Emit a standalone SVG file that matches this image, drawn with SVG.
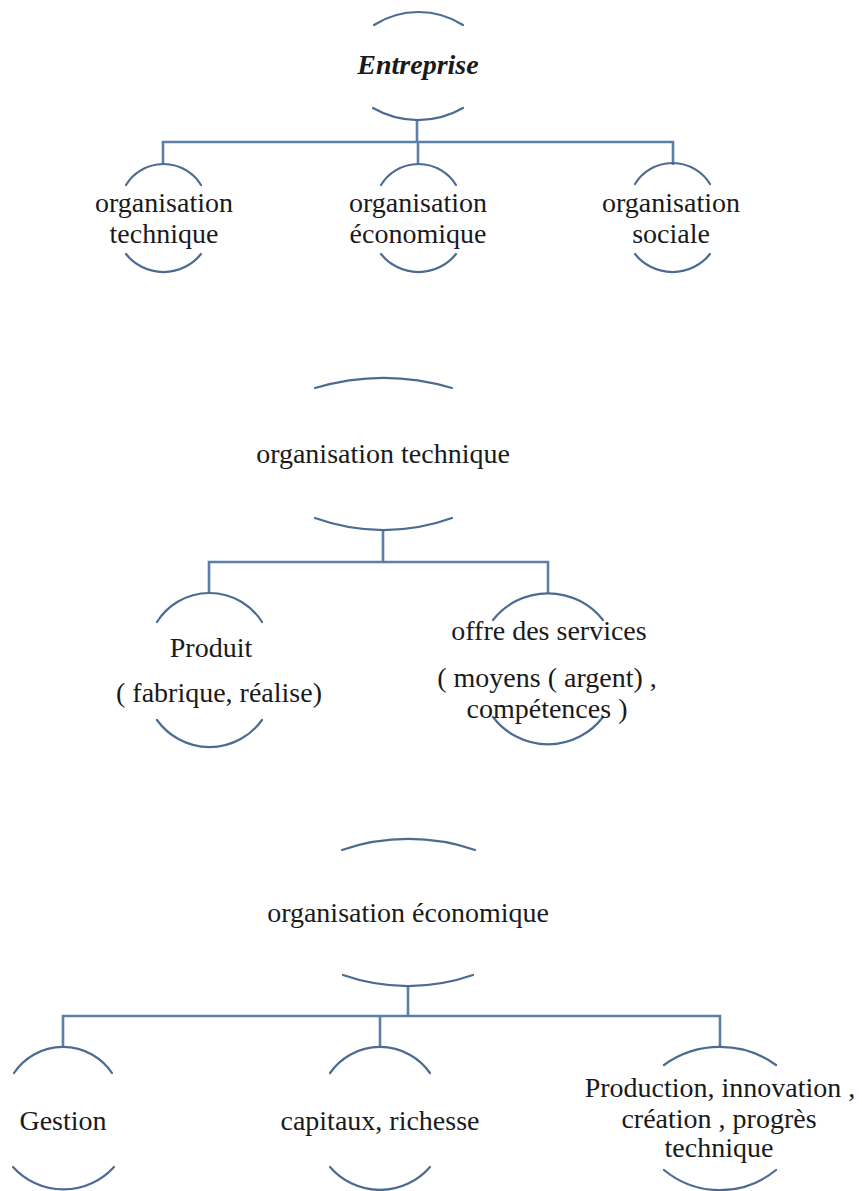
<svg xmlns="http://www.w3.org/2000/svg" width="862" height="1191" viewBox="0 0 862 1191">
<style>
.arc{fill:none;stroke:#4c6a92;stroke-width:2.2;stroke-linecap:round}
.con{fill:none;stroke:#5b7fa9;stroke-width:2.6}
.t{font-family:"Liberation Serif","Times New Roman",serif;font-size:28px;fill:#1a1a1a;text-anchor:middle}
.b{font-weight:bold;font-style:italic}
</style>
<rect width="862" height="1191" fill="#ffffff"/>
<g id="connectors">
<path class="con" d="M417 120 V142"/>
<path class="con" d="M163 164 V142 H673 V165"/>
<path class="con" d="M418 142 V164"/>
<path class="con" d="M383 530 V562"/>
<path class="con" d="M209 593 V562 H548 V593"/>
<path class="con" d="M408 986 V1016"/>
<path class="con" d="M63 1047 V1016 H720 V1047"/>
<path class="con" d="M380 1016 V1047"/>
</g>
<g id="n-entreprise">
<path class="arc" d="M374 25 A82.7 82.7 0 0 1 463 25"/>
<path class="arc" d="M373 108 A90 90 0 0 0 463 108"/>
<text class="t b" x="418" y="74">Entreprise</text>
</g>
<g id="n-org-tech-1">
<path class="arc" d="M126 185 A44 44 0 0 1 201 185"/>
<path class="arc" d="M126 254 A48 48 0 0 0 201 254"/>
<text class="t" x="164" y="212">organisation</text>
<text class="t" x="164" y="243">technique</text>
</g>
<g id="n-org-eco-1">
<path class="arc" d="M381 185 A44 44 0 0 1 456 185"/>
<path class="arc" d="M381 254 A48 48 0 0 0 456 254"/>
<text class="t" x="418" y="212">organisation</text>
<text class="t" x="418" y="243">économique</text>
</g>
<g id="n-org-soc-1">
<path class="arc" d="M635 184 A44 44 0 0 1 710 184"/>
<path class="arc" d="M635 254 A48 48 0 0 0 710 254"/>
<text class="t" x="671" y="212">organisation</text>
<text class="t" x="671" y="243">sociale</text>
</g>
<g id="n-org-tech-2">
<path class="arc" d="M315 388 A240 240 0 0 1 452 388"/>
<path class="arc" d="M315 518 A201 201 0 0 0 452 518"/>
<text class="t" x="383" y="463">organisation technique</text>
</g>
<g id="n-produit">
<path class="arc" d="M157 622 A62 62 0 0 1 262 622"/>
<path class="arc" d="M157 720 A64.5 64.5 0 0 0 262 720"/>
<text class="t" x="211" y="657">Produit</text>
<text class="t" x="219" y="702">( fabrique, réalise)</text>
</g>
<g id="n-offre">
<path class="arc" d="M493 620 A70 70 0 0 1 603 620"/>
<path class="arc" d="M493 717 A69 69 0 0 0 603 717"/>
<text class="t" x="549" y="640">offre des services</text>
<text class="t" x="547" y="687">( moyens ( argent) ,</text>
<text class="t" x="547" y="718">compétences )</text>
</g>
<g id="n-org-eco-2">
<path class="arc" d="M342 850 A206 206 0 0 1 475 850"/>
<path class="arc" d="M343 975 A197 197 0 0 0 473 975"/>
<text class="t" x="408" y="922">organisation économique</text>
</g>
<g id="n-gestion">
<path class="arc" d="M14 1073 A59 59 0 0 1 112 1073"/>
<path class="arc" d="M13 1167 A68 68 0 0 0 114 1167"/>
<text class="t" x="63" y="1130">Gestion</text>
</g>
<g id="n-capitaux">
<path class="arc" d="M330 1073 A61 61 0 0 1 430 1073"/>
<path class="arc" d="M330 1167 A66 66 0 0 0 430 1167"/>
<text class="t" x="380" y="1130">capitaux, richesse</text>
</g>
<g id="n-production">
<path class="arc" d="M664 1065 A96 96 0 0 1 776 1065"/>
<path class="arc" d="M664 1170 A88 88 0 0 0 776 1170"/>
<text class="t" x="720" y="1097">Production, innovation ,</text>
<text class="t" x="719" y="1128">création , progrès</text>
<text class="t" x="719" y="1157">technique</text>
</g>
</svg>
